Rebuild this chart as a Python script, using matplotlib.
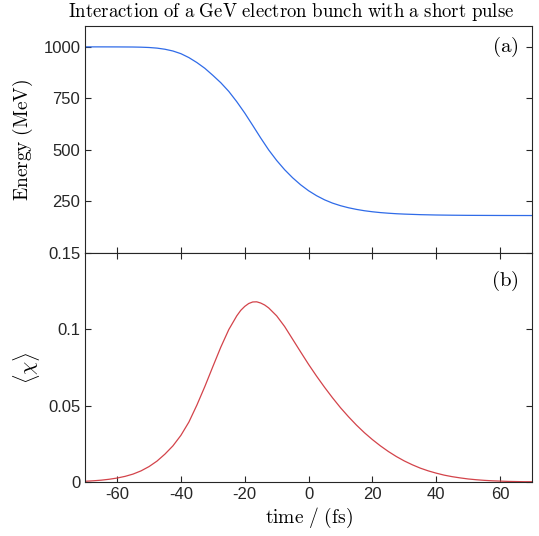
#!/usr/bin/env python3

import matplotlib
matplotlib.use('Agg')
import matplotlib.pyplot as plt

# energy of the bunch vs time
t_energy = [-70, -65, -60, -55, -52.5, -50, -47.5, -45, -42.5, -40, -37.5,
            -35, -32.5, -30, -27.5, -25, -22.5, -20, -17.5, -15, -12.5, -10,
            -7.5, -5, -2.5, 0, 2.5, 5, 7.5, 10, 12.5, 15, 17.5, 20, 22.5, 25,
            27.5, 30, 35, 40, 45, 50, 60, 70]
energy = [1000, 1000, 999.8, 999.3, 998.5, 997, 994, 988.5, 980, 967, 948,
          924, 896, 862, 826, 784, 734, 679, 619, 558, 500, 449,
          404, 365, 331, 302, 278, 258, 242, 229.5, 219.5, 211.5, 205, 200, 196, 193,
          190.5, 188.7, 186, 184.3, 183.3, 182.6, 182, 181.7]

# mean quantum parameter vs time
t_chi = [-70, -67.5, -65, -62.5, -60, -57.5, -55, -52.5, -50, -47.5, -45,
         -42.5, -40, -37.5, -35, -32.5, -30, -27.5, -25, -22.5, -21.25, -20,
         -18.75, -17.5, -16.25, -15, -13.75, -12.5, -10, -7.5, -5, -2.5, 0,
         2.5, 5, 7.5, 10, 12.5, 15, 17.5, 20, 22.5, 25, 27.5, 30, 32.5, 35,
         37.5, 40, 42.5, 45, 47.5, 50, 52.5, 55, 57.5, 60, 62.5, 65, 67.5, 70]
chi = [0.0004, 0.0007, 0.0011, 0.0017, 0.0025, 0.0036, 0.0051, 0.0072, 0.0100,
       0.0136, 0.0182, 0.0236, 0.0305, 0.0392, 0.0503, 0.0625, 0.0755, 0.0883,
       0.0998, 0.1088, 0.1124, 0.1150, 0.1169, 0.1179, 0.1180, 0.1172, 0.1159,
       0.1140, 0.1088, 0.1018, 0.0935, 0.0852, 0.0770, 0.0693, 0.0620, 0.0551,
       0.0486, 0.0427, 0.0372, 0.0322, 0.0277, 0.0236, 0.0199, 0.0166, 0.0137,
       0.0112, 0.0090, 0.0072, 0.0057, 0.0044, 0.0034, 0.0026, 0.0019, 0.0014,
       0.0010, 0.0007, 0.0005, 0.0003, 0.0002, 0.0001, 0.0001]

x_ticks = [-60, -40, -20, 0, 20, 40, 60]
e_ticks = [250, 500, 750, 1000]
chi_ticks = [0, 0.05, 0.1, 0.15]
chi_ticklabels = ['0', '0.05', '0.1', '0.15']

plt.rcParams['mathtext.fontset'] = 'cm'
plt.rcParams['font.family'] = 'Liberation Sans'
plt.rcParams['axes.linewidth'] = 0.8

fig = plt.figure(figsize=(5.39, 5.36), dpi=100)
ax1 = fig.add_axes([0.158, 0.528, 0.829, 0.423])
ax2 = fig.add_axes([0.158, 0.101, 0.829, 0.427])

spine_col = '#262626'
for ax in (ax1, ax2):
    for s in ax.spines.values():
        s.set_color(spine_col)
    ax.set_xlim(-70, 70)
    ax.set_xticks(x_ticks)
    ax.tick_params(direction='in', length=4, width=0.8, labelsize=12,
                   colors=spine_col, right=True)

ax1.plot(t_energy, energy, color='#2f6be8', lw=0.9)
ax1.set_ylim(0, 1100)
ax1.set_yticks(e_ticks)
ax1.tick_params(labelbottom=False)
ax1.set_ylabel(r'$\mathrm{Energy\ (MeV)}$', fontsize=14, labelpad=6)
ax1.text(0.97, 0.91, r'$\mathrm{(a)}$', transform=ax1.transAxes,
         ha='right', va='center', fontsize=15)

ax2.plot(t_chi, chi, color='#d3434a', lw=0.9)
ax2.set_ylim(0, 0.15)
ax2.set_yticks(chi_ticks)
ax2.set_yticklabels(chi_ticklabels)
ax2.tick_params(top=True)
ax2.set_xticklabels([str(v) for v in x_ticks])
ax2.set_ylabel(r'$\langle\chi\rangle$', fontsize=15, labelpad=4)
ax2.set_xlabel(r'$\mathrm{time\ /\ (fs)}$', fontsize=14, labelpad=3)
ax2.text(0.97, 0.88, r'$\mathrm{(b)}$', transform=ax2.transAxes,
         ha='right', va='center', fontsize=15)

fig.text(0.54, 0.977, r'$\mathrm{Interaction\ of\ a\ GeV\ electron\ bunch\ with\ a\ short\ pulse}$',
         ha='center', va='center', fontsize=13.5)

plt.savefig('out.png', dpi=100)
